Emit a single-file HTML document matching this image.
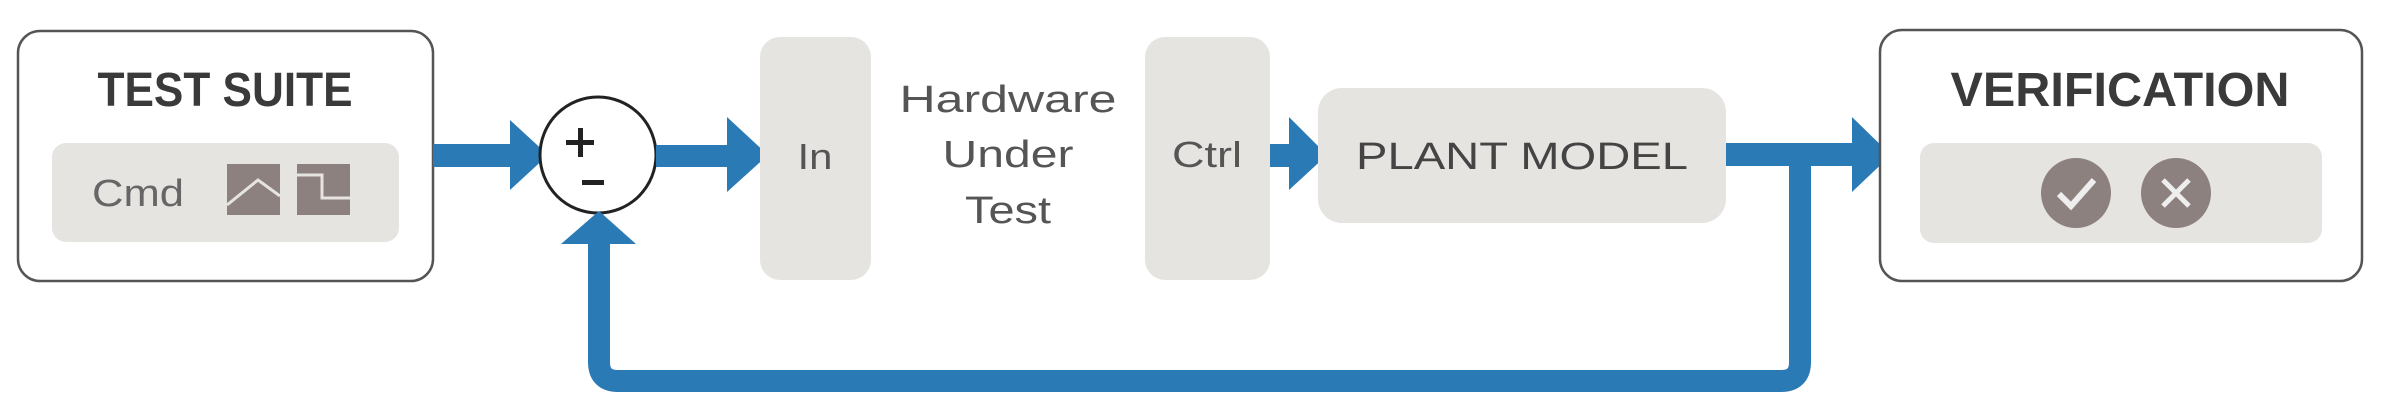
<!DOCTYPE html>
<html><head><meta charset="utf-8"><style>
html,body{margin:0;padding:0;background:#fff;}
svg{display:block;}
text{font-family:"Liberation Sans",sans-serif;}
</style></head><body>
<svg width="2381" height="411" viewBox="0 0 2381 411" xmlns="http://www.w3.org/2000/svg">
<!-- Test suite -->
<rect x="18" y="31" width="415" height="250" rx="22" fill="#fff" stroke="#555" stroke-width="2.5"/>
<text x="225" y="106" font-size="48" font-weight="bold" fill="#3a3a3a" text-anchor="middle" textLength="255" lengthAdjust="spacingAndGlyphs">TEST SUITE</text>
<rect x="52" y="143" width="347" height="99" rx="14" fill="#e6e4e1"/>
<text x="92" y="206" font-size="38" fill="#666" textLength="92" lengthAdjust="spacingAndGlyphs">Cmd</text>
<rect x="227" y="164" width="53" height="51" fill="#8c817e"/>
<polyline points="227,205 258,180 280,196" fill="none" stroke="#e6e4e1" stroke-width="3"/>
<rect x="297" y="164" width="53" height="51" fill="#8c817e"/>
<polyline points="297,175 322,175 322,198 350,198" fill="none" stroke="#e6e4e1" stroke-width="3"/>

<!-- arrow 1 -->
<rect x="433" y="144" width="80" height="23" fill="#2a7ab5"/>
<polygon points="510,120 548,155 510,190" fill="#2a7ab5"/>

<!-- sum -->
<circle cx="598" cy="155" r="58" fill="#fff" stroke="#222" stroke-width="3"/>
<rect x="566" y="140" width="28" height="5" fill="#222"/>
<rect x="578" y="128" width="5" height="29" fill="#222"/>
<rect x="582" y="180" width="22" height="5" fill="#222"/>

<!-- arrow 2 -->
<rect x="656" y="145" width="75" height="22" fill="#2a7ab5"/>
<polygon points="727,117 768,155 727,192" fill="#2a7ab5"/>

<!-- In box -->
<rect x="760" y="37" width="111" height="243" rx="20" fill="#e6e4e1"/>
<text x="815" y="169" font-size="36" fill="#555" text-anchor="middle" textLength="35" lengthAdjust="spacingAndGlyphs">In</text>

<!-- HUT text -->
<text x="1008" y="112" font-size="38" fill="#555" text-anchor="middle" textLength="217" lengthAdjust="spacingAndGlyphs">Hardware</text>
<text x="1008" y="167" font-size="38" fill="#555" text-anchor="middle" textLength="131" lengthAdjust="spacingAndGlyphs">Under</text>
<text x="1008" y="223" font-size="38" fill="#555" text-anchor="middle" textLength="86" lengthAdjust="spacingAndGlyphs">Test</text>

<!-- Ctrl box -->
<rect x="1145" y="37" width="125" height="243" rx="20" fill="#e6e4e1"/>
<text x="1207" y="167" font-size="36" fill="#555" text-anchor="middle" textLength="70" lengthAdjust="spacingAndGlyphs">Ctrl</text>

<!-- arrow 3 -->
<rect x="1270" y="144" width="24" height="23" fill="#2a7ab5"/>
<polygon points="1289,117 1327,155 1289,190" fill="#2a7ab5"/>

<!-- Plant model -->
<rect x="1318" y="88" width="408" height="135" rx="24" fill="#e6e4e1"/>
<text x="1522" y="169" font-size="38" fill="#444" text-anchor="middle" textLength="332" lengthAdjust="spacingAndGlyphs">PLANT MODEL</text>

<!-- output arrow -->
<rect x="1726" y="143" width="130" height="23" fill="#2a7ab5"/>
<polygon points="1852,117 1891,155 1852,192" fill="#2a7ab5"/>

<!-- feedback -->
<path d="M1800,155 L1800,362 Q1800,381 1781,381 L618,381 Q599,381 599,362 L599,238" fill="none" stroke="#2a7ab5" stroke-width="22"/>
<polygon points="561,244 599,211 636,244" fill="#2a7ab5"/>

<!-- Verification -->
<rect x="1880" y="30" width="482" height="251" rx="22" fill="#fff" stroke="#555" stroke-width="2.5"/>
<text x="2120" y="106" font-size="48" font-weight="bold" fill="#3a3a3a" text-anchor="middle" textLength="339" lengthAdjust="spacingAndGlyphs">VERIFICATION</text>
<rect x="1920" y="143" width="402" height="100" rx="14" fill="#e6e4e1"/>
<circle cx="2076" cy="193" r="35" fill="#8c817e"/>
<polyline points="2059,194 2071,206 2094,180" fill="none" stroke="#eee" stroke-width="6"/>
<circle cx="2176" cy="193" r="35" fill="#8c817e"/>
<path d="M2163,180 L2189,206 M2189,180 L2163,206" stroke="#eee" stroke-width="5"/>
</svg>
</body></html>
